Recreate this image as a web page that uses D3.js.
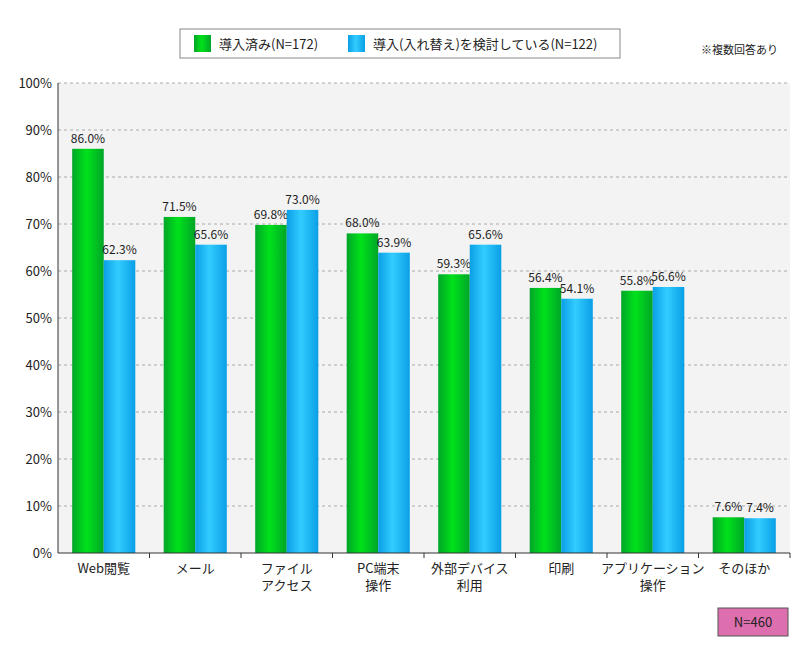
<!DOCTYPE html>
<html><head><meta charset="utf-8">
<script src="https://cdn.jsdelivr.net/npm/d3@7.9.0/dist/d3.min.js"></script>
<style>body{margin:0;background:#fff;font-family:"Noto Sans CJK JP","Liberation Sans",sans-serif;}</style>
</head><body>
<svg id="c" width="800" height="650"></svg>
<script>
const categories = [['Web閲覧'], ['メール'], ['ファイル', 'アクセス'], ['PC端末', '操作'], ['外部デバイス', '利用'], ['印刷'], ['アプリケーション', '操作'], ['そのほか']];
const installed = [86.0, 71.5, 69.8, 68.0, 59.3, 56.4, 55.8, 7.6];
const considering = [62.3, 65.6, 73.0, 63.9, 65.6, 54.1, 56.6, 7.4];
const seriesNames = ['導入済み(N=172)', '導入(入れ替え)を検討している(N=122)'];
const yTicks = [0, 10, 20, 30, 40, 50, 60, 70, 80, 90, 100];

const svg = d3.select('#c');
const m = {l: 58, r: 790, t: 83, b: 553};

const defs = svg.append('defs');
function grad(id, edge, mid) {
    const g = defs.append('linearGradient').attr('id', id);
    g.append('stop').attr('offset', '0%').attr('stop-color', edge);
    g.append('stop').attr('offset', '45%').attr('stop-color', mid);
    g.append('stop').attr('offset', '100%').attr('stop-color', edge);
}
grad('gGreen', '#00a528', '#00e21a');
grad('gBlue', '#0a9fe6', '#33ccff');
const fills = ['url(#gGreen)', 'url(#gBlue)'];

const x = d3.scaleBand().domain(d3.range(categories.length)).range([m.l, m.r]);
const x1 = d3.scaleBand().domain([0, 1]).range([0, x.bandwidth()]).paddingOuter(0.45).paddingInner(0);
const y = d3.scaleLinear().domain([0, 100]).range([m.b, m.t]);

svg.append('rect').attr('x', m.l).attr('y', m.t).attr('width', m.r - m.l).attr('height', m.b - m.t).attr('fill', '#f3f3f3');

yTicks.forEach(t => {
    if (t > 0) svg.append('line').attr('x1', m.l).attr('x2', m.r).attr('y1', y(t)).attr('y2', y(t))
        .attr('stroke', '#aaa').attr('stroke-dasharray', '3,3');
    svg.append('text').attr('x', 52).attr('y', y(t) + 5).attr('text-anchor', 'end')
        .attr('font-size', 13).attr('fill', '#222').text(t + '%');
});

[installed, considering].forEach((vals, s) => {
    vals.forEach((v, i) => {
        const bx = x(i) + x1(s);
        svg.append('rect').attr('x', bx).attr('y', y(v)).attr('width', x1.bandwidth()).attr('height', y(0) - y(v))
            .attr('fill', fills[s]);
        svg.append('text').attr('x', bx + x1.bandwidth() / 2).attr('y', y(v) - 6).attr('text-anchor', 'middle')
            .attr('font-size', 12).attr('fill', '#222').text(v.toFixed(1) + '%');
    });
});

svg.append('line').attr('x1', m.l).attr('x2', m.l).attr('y1', m.t).attr('y2', m.b).attr('stroke', '#333');
svg.append('line').attr('x1', m.l).attr('x2', m.r).attr('y1', m.b).attr('y2', m.b).attr('stroke', '#333');
categories.forEach((c, i) => {
    svg.append('line').attr('x1', x(i) + x.bandwidth()).attr('x2', x(i) + x.bandwidth())
        .attr('y1', m.b).attr('y2', m.b + 5).attr('stroke', '#333');
    c.forEach((line, k) => {
        svg.append('text').attr('x', x(i) + x.bandwidth() / 2).attr('y', m.b + 20 + k * 17)
            .attr('text-anchor', 'middle').attr('font-size', 13).attr('fill', '#222').text(line);
    });
});

// legend
svg.append('rect').attr('x', 180).attr('y', 29).attr('width', 440).attr('height', 29)
    .attr('fill', '#fff').attr('stroke', '#888');
const lx = [194, 348];
seriesNames.forEach((n, s) => {
    svg.append('rect').attr('x', lx[s]).attr('y', 35).attr('width', 17).attr('height', 17).attr('fill', fills[s]);
    svg.append('text').attr('x', lx[s] + 25).attr('y', 49).attr('font-size', 13).attr('fill', '#222').text(n);
});
svg.append('text').attr('x', 778).attr('y', 54).attr('text-anchor', 'end').attr('font-size', 11).attr('fill', '#222').text('※複数回答あり');

svg.append('rect').attr('x', 718).attr('y', 608).attr('width', 70).attr('height', 28)
    .attr('fill', '#dd6fae').attr('stroke', '#555');
svg.append('text').attr('x', 753).attr('y', 627).attr('text-anchor', 'middle').attr('font-size', 13).attr('fill', '#222').text('N=460');
</script>
</body></html>
